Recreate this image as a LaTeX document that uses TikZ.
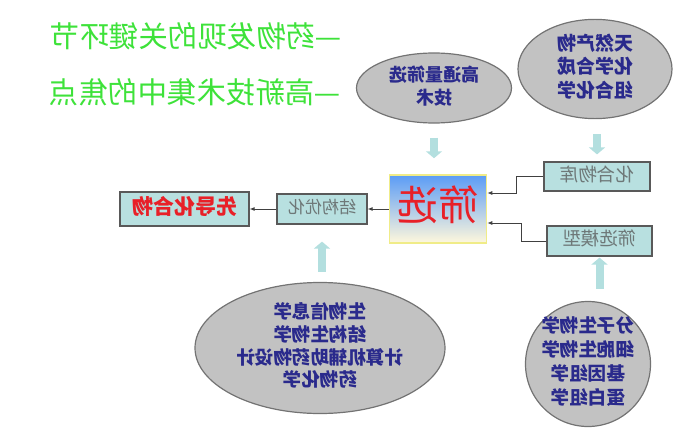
\documentclass[tikz,border=0pt]{standalone}
\usepackage{fontspec}
\setmainfont{Noto Sans CJK SC}
\usepackage{graphicx}
\usetikzlibrary{arrows.meta,positioning,calc,shapes.geometric}
\definecolor{TitleGreen}{HTML}{3EE23A}
\definecolor{OvalGray}{HTML}{C2C2C2}
\definecolor{OvalInk}{HTML}{2A2A8C}
\definecolor{BoxCyan}{HTML}{B8E0E0}
\definecolor{BoxInk}{HTML}{6E7878}
\definecolor{LeadRed}{HTML}{E82028}
\definecolor{ArrowCyan}{HTML}{B3DFDF}
\definecolor{ScreenBlue}{HTML}{5B9CF6}
\definecolor{ScreenMid}{HTML}{B2D0F6}
\definecolor{ScreenPale}{HTML}{FFF8DC}
\definecolor{ScreenEdge}{HTML}{F0EC88}
\newcommand{\rev}[1]{\reflectbox{\begin{tabular}{@{}c@{}}#1\end{tabular}}}

\begin{document}
\begin{tikzpicture}[x=1pt, y=-1pt,
    ovalnode/.style={ellipse, draw=black!55, fill=OvalGray, line width=1.2pt, text=OvalInk, font=\fontsize{18}{23}\selectfont\bfseries, inner sep=0pt},
    boxnode/.style={rectangle, draw=black!65, fill=BoxCyan, line width=1.2pt, text=BoxInk, font=\fontsize{17}{20}\selectfont, inner sep=0pt},
    titletext/.style={text=TitleGreen, font=\fontsize{29.5}{31}\selectfont, inner sep=0pt},
    arr/.style={-{Latex[length=5pt,width=4pt]}, draw=black!75, line width=0.9pt},
    blockarr/.style={-{Triangle[length=7pt,width=16pt]}, draw=ArrowCyan, line width=8pt}
  ]
  \useasboundingbox (0,0) rectangle (685,436);

  % titles
  \node[titletext] (t1) at (196,40) {\rev{—药物发现的关键环节}};
  \node[titletext] (t2) at (195,96) {\rev{—高新技术集中的焦点}};

  % ovals
  \node[ovalnode, minimum width=155pt, minimum height=70pt] (hts) at (434,88) {\rev{高通量筛选\\技术}};
  \node[ovalnode, minimum width=154pt, minimum height=98pt, font=\fontsize{19}{23}\selectfont\bfseries] (nat) at (595,69) {\rev{天然产物\\化学合成\\组合化学}};
  \node[ovalnode, minimum width=250pt, minimum height=131pt, font=\fontsize{18.5}{22}\selectfont\bfseries] (bio) at (320,348) {\rev{生物信息学\\结构生物学\\计算机辅助药物设计\\药物化学}};
  \node[ovalnode, minimum width=125pt, minimum height=125pt, inner sep=-4pt, font=\fontsize{18.5}{24}\selectfont\bfseries] (mol) at (588,364) {\rev{分子生物学\\细胞生物学\\基因组学\\蛋白组学}};

  % boxes
  \node[rectangle, draw=ScreenEdge, line width=1.5pt, top color=ScreenBlue, middle color=ScreenMid, bottom color=ScreenPale, minimum width=97pt, minimum height=68pt, text=LeadRed, font=\fontsize{41}{42}\selectfont] (screen) at (438,209) {\rev{筛选}};
  \node[boxnode, minimum width=90pt, minimum height=30pt] (opt) at (322,209) {\rev{结构优化}};
  \node[boxnode, minimum width=129pt, minimum height=34pt, text=LeadRed, font=\fontsize{21}{22}\selectfont\bfseries] (lead) at (184.5,209) {\rev{先导化合物}};
  \node[boxnode, minimum width=106pt, minimum height=29pt, font=\fontsize{18.5}{20}\selectfont] (lib) at (597,176.5) {\rev{化合物库}};
  \node[boxnode, minimum width=105pt, minimum height=30pt, font=\fontsize{18.5}{20}\selectfont] (model) at (599.5,241) {\rev{筛选模型}};

  % connectors
  \draw[arr] (screen) -- (opt);
  \draw[arr] (opt) -- (lead);
  \draw[arr] (lib.west) -- ++(-27,0) |- ($(screen.east)+(0,-16)$);
  \draw[arr] (model.west) -- ++(-25,0) |- ($(screen.east)+(0,14)$);

  % block arrows
  \draw[blockarr, shorten <=14pt, shorten >=16pt] (hts.south) -- (hts.south |- screen.north);
  \draw[blockarr, shorten <=15pt, shorten >=7pt] (nat.south -| lib.north) -- (lib.north);
  \draw[blockarr, shorten <=10pt, shorten >=17pt] (bio.north -| opt.south) -- (opt.south);
  \draw[blockarr, shorten <=12pt, shorten >=1pt] (mol.north -| model.south) -- (model.south);
\end{tikzpicture}
\end{document}
